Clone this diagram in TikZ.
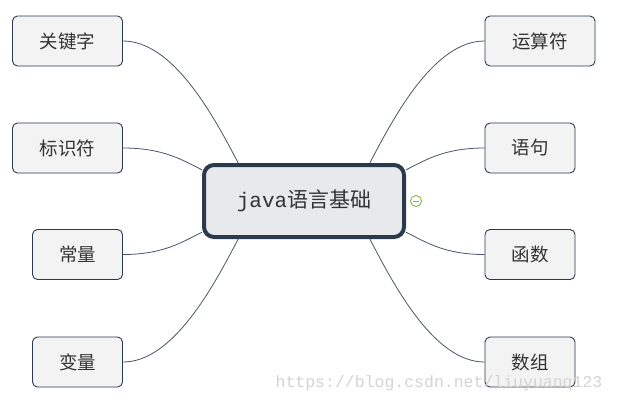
\documentclass[tikz,border=0pt]{standalone}
\usepackage{fontspec}
\setmainfont{Noto Sans CJK SC}
\newfontfamily\monofnt{Liberation Mono}
\definecolor{edgec}{HTML}{2C3A4D}
\definecolor{linkc}{HTML}{4A5566}
\definecolor{leaffill}{HTML}{F3F3F3}
\definecolor{rootfill}{HTML}{E8E9EC}
\definecolor{txtc}{HTML}{333333}
\definecolor{togc}{HTML}{7DBE45}
\definecolor{wmc}{HTML}{D4D4D4}
\begin{document}
\begin{tikzpicture}[x=1pt,y=-1pt,
  leaf/.style={draw=edgec,line width=0.9pt,fill=leaffill,rounded corners=5pt,
    minimum height=50pt,inner sep=0pt,font=\fontsize{18.5}{22}\selectfont,text=txtc},
  leafw/.style={leaf,minimum width=110pt},
  leafn/.style={leaf,minimum width=90pt},
  root/.style={draw=edgec,line width=4pt,fill=rootfill,rounded corners=10pt,
    minimum width=200pt,minimum height=72pt,inner sep=0pt,
    font=\fontsize{21}{24}\selectfont,text=txtc},
  link/.style={draw=linkc,line width=0.8pt},
  tog/.style={circle,draw=togc,line width=0.9pt,fill=white,minimum size=11pt,inner sep=0pt}
]
\useasboundingbox (0,0) rectangle (617,410);
\fill[white] (0,0) rectangle (617,410);

\node[root] (c) at (304,201) {{\monofnt java}语言基础};

\node[leafw] (kw) at (67.5,41) {关键字};
\node[leafw] (id) at (67.5,148) {标识符};
\node[leafn] (cl) at (77.5,254.5) {常量};
\node[leafn] (va) at (77.5,362) {变量};

\node[leafw] (op) at (540,41) {运算符};
\node[leafn] (st) at (530,148) {语句};
\node[leafn] (fn) at (530,254.5) {函数};
\node[leafn] (ar) at (530,362) {数组};

\draw[link] (kw.east) .. controls +(50,0) and +(-25,-48) .. (c.150);
\draw[link] (id.east) .. controls +(40,0) and +(-20,-10) .. (c.163);
\draw[link] (cl.east) .. controls +(40,0) and +(-20,10) .. (c.197);
\draw[link] (va.east) .. controls +(50,0) and +(-25,48) .. (c.210);

\draw[link] (op.west) .. controls +(-50,0) and +(25,-48) .. (c.30);
\draw[link] (st.west) .. controls +(-40,0) and +(20,-10) .. (c.17);
\draw[link] (fn.west) .. controls +(-40,0) and +(20,10) .. (c.343);
\draw[link] (ar.west) .. controls +(-50,0) and +(25,48) .. (c.330);

\node[tog] (tg) at ([xshift=10pt]c.east) {};
\draw[togc,line width=1pt] ([xshift=-3pt]tg.center) -- ([xshift=3pt]tg.center);

\node[font=\monofnt\fontsize{16.5}{18}\selectfont,text=wmc,anchor=center] (wm) at (439,383) {https://blog.csdn.net/liuyuanq123};
\end{tikzpicture}
\end{document}
